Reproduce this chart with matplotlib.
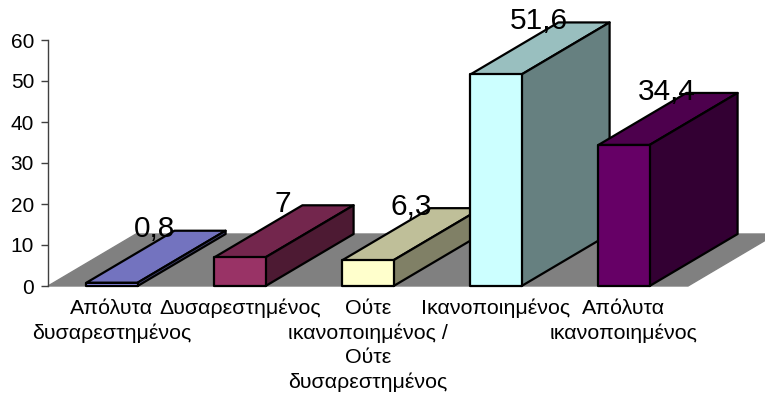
from matplotlib import pyplot as plt
from matplotlib.patches import Polygon

categories = ['Απόλυτα\nδυσαρεστημένος', 'Δυσαρεστημένος',
              'Ούτε\nικανοποιημένος /\nΟύτε\nδυσαρεστημένος',
              'Ικανοποιημένος', 'Απόλυτα\nικανοποιημένος']
values = [0.8, 7, 6.3, 51.6, 34.4]
value_labels = ['0,8', '7', '6,3', '51,6', '34,4']
y_ticks = [0, 10, 20, 30, 40, 50, 60]

front_colors = ['#9999ff', '#993366', '#ffffcc', '#ccffff', '#660066']
top_colors = ['#7373bf', '#73264d', '#bfbf99', '#99bfbf', '#4d004d']
side_colors = ['#4d4d80', '#4d1a33', '#808066', '#668080', '#330033']

plt.rcParams['font.family'] = ['Liberation Sans', 'DejaVu Sans']

W, H = 765, 397
fig = plt.figure(figsize=(W / 100, H / 100), dpi=100)
# оси в пикселях картинки: x 48..688, y 286..40
ax = fig.add_axes([48 / W, 1 - 286 / H, 640 / W, 246 / H])
ax.set_xlim(0, 5)
ax.set_ylim(0, 60)

# сдвиг глубины в единицах данных
dx = 88 / 128
dy = 52 / 4.1
half = 0.2

# пол
ax.add_patch(Polygon([(0, 0), (5, 0), (5 + dx, dy), (dx, dy)],
                     closed=True, fc='#808080', ec='#808080', lw=1,
                     clip_on=False, zorder=1))

for i, v in enumerate(values):
    x0 = i + 0.5 - half
    x1 = i + 0.5 + half
    style = dict(closed=True, ec='black', lw=1.6, joinstyle='round',
                 clip_on=False, zorder=2 + i)
    ax.add_patch(Polygon([(x0, v), (x1, v), (x1 + dx, v + dy), (x0 + dx, v + dy)],
                         fc=top_colors[i], **style))
    ax.add_patch(Polygon([(x1, 0), (x1 + dx, dy), (x1 + dx, v + dy), (x1, v)],
                         fc=side_colors[i], **style))
    ax.add_patch(Polygon([(x0, 0), (x1, 0), (x1, v), (x0, v)],
                         fc=front_colors[i], **style))
    ax.text(i + 0.5 + 0.335, v + dy + 0.3, value_labels[i], fontsize=21.5,
            ha='center', va='center', clip_on=False, zorder=10)

for side in ['top', 'right', 'bottom']:
    ax.spines[side].set_visible(False)
ax.spines['left'].set_color('#404040')
ax.spines['left'].set_linewidth(1)
ax.patch.set_alpha(0)

ax.set_yticks(y_ticks)
ax.tick_params(axis='y', length=5, width=1, labelsize=15, pad=5, color='#404040')
ax.set_xticks([i + 0.5 for i in range(5)])
ax.set_xticklabels(categories, fontsize=15.4, linespacing=1.36)
ax.tick_params(axis='x', length=0, pad=9)

fig.savefig('out.png', dpi=100)
